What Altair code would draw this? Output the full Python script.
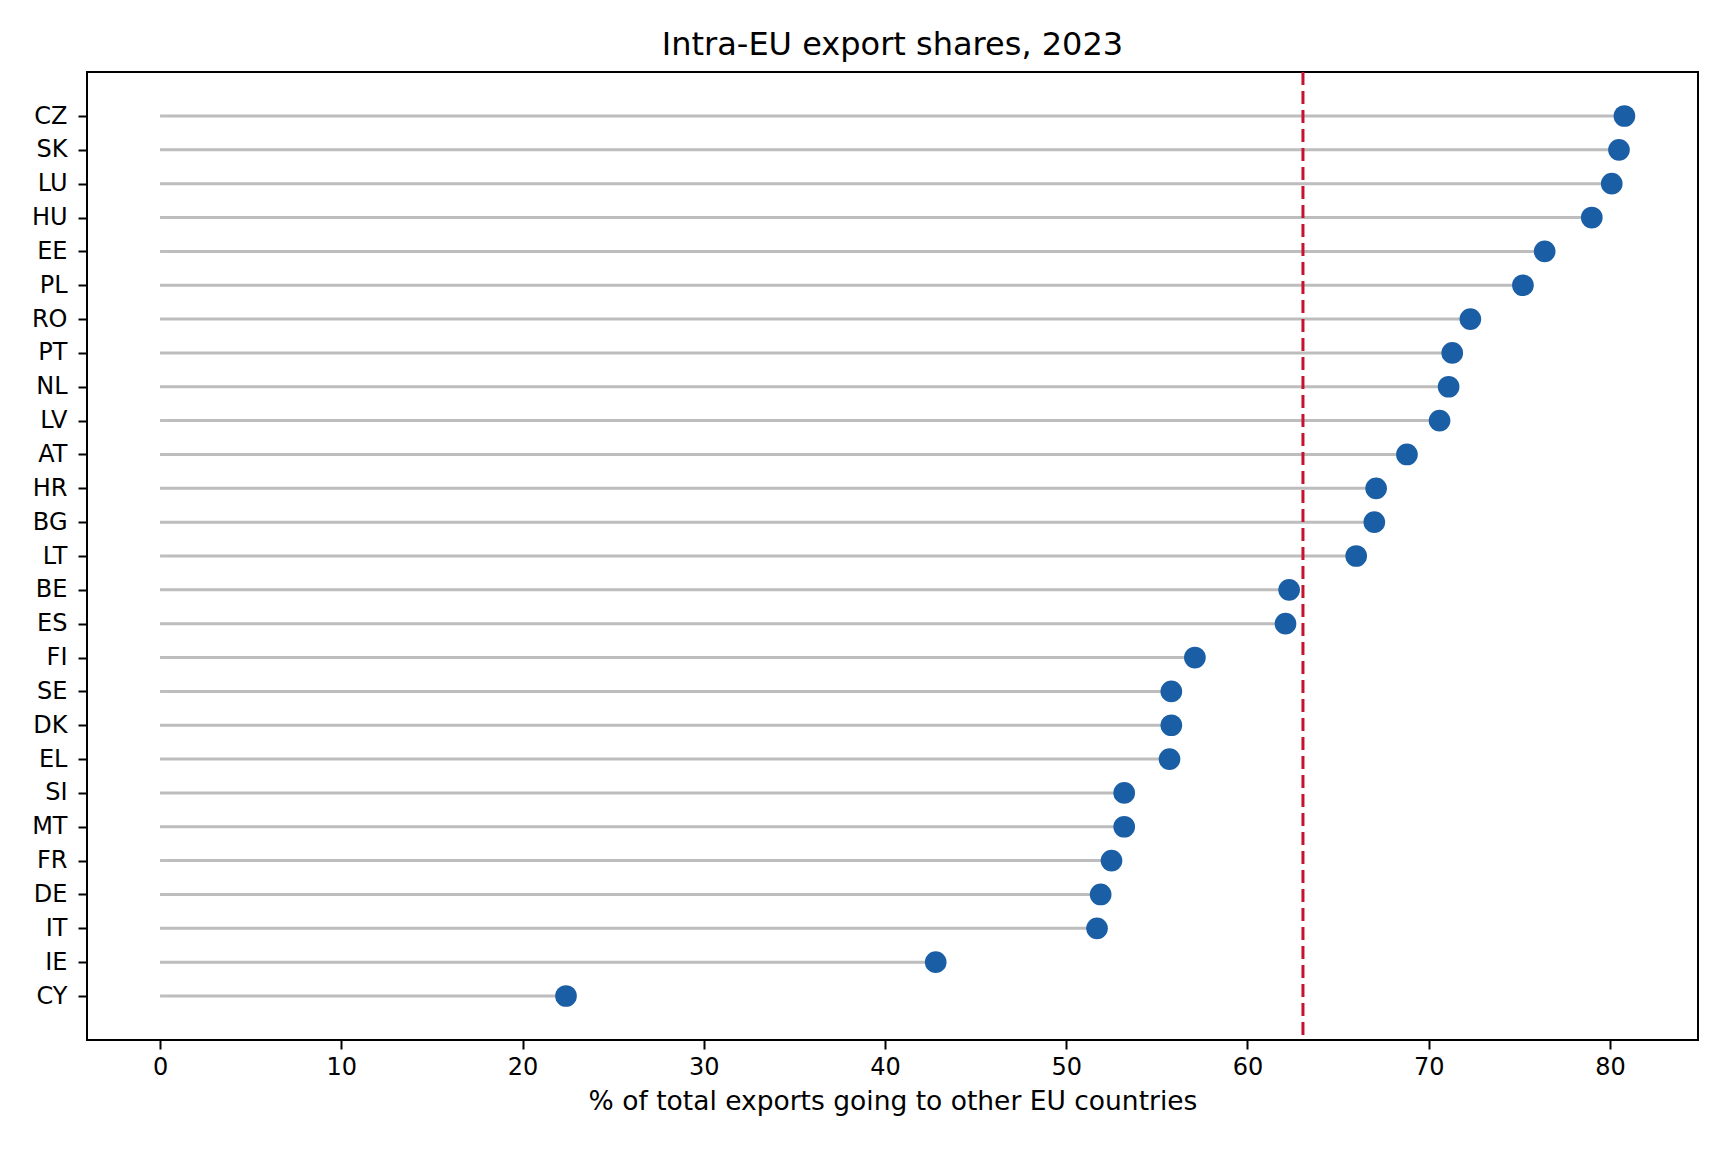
import altair as alt
import pandas as pd

countries = ["CZ", "SK", "LU", "HU", "EE", "PL", "RO", "PT", "NL", "LV",
             "AT", "HR", "BG", "LT", "BE", "ES", "FI", "SE", "DK", "EL",
             "SI", "MT", "FR", "DE", "IT", "IE", "CY"]
shares = [80.8, 80.5, 80.1, 79.0, 76.4, 75.2, 72.3, 71.3, 71.1, 70.6,
          68.8, 67.1, 67.0, 66.0, 62.3, 62.1, 57.1, 55.8, 55.8, 55.7,
          53.2, 53.2, 52.5, 51.9, 51.7, 42.8, 22.4]
x_ticks = [0, 10, 20, 30, 40, 50, 60, 70, 80]

df = pd.DataFrame({"country": countries, "share": shares, "zero": [0] * len(countries)})

FONT = "DejaVu Sans"
W, H = 1611, 968

x_scale = alt.Scale(domain=[-4.03, 84.86], nice=False, zero=False)
y_scale = alt.Scale(type="point", range=[44, 924], padding=0)

x_axis = alt.Axis(values=x_ticks, title="% of total exports going to other EU countries",
                  grid=False, domain=False, tickColor="black", tickWidth=2, tickSize=9,
                  labelFont=FONT, labelFontSize=24, labelColor="black", labelPadding=6,
                  titleFont=FONT, titleFontSize=26.5, titleFontWeight="normal",
                  titleColor="black", titlePadding=9, labelFlush=False)
y_axis = alt.Axis(title=None, grid=False, domain=False, tickColor="black", tickWidth=2,
                  tickSize=9, labelFont=FONT, labelFontSize=24, labelColor="black",
                  labelPadding=11)

base = alt.Chart(df)

stems = base.mark_rule(color="#bdbdbd", strokeWidth=3).encode(
    x=alt.X("zero:Q", scale=x_scale, axis=x_axis),
    x2="share:Q",
    y=alt.Y("country:N", sort=countries, scale=y_scale, axis=y_axis),
)

dots = base.mark_circle(color="#1a5ea5", opacity=1, size=470).encode(
    x=alt.X("share:Q", scale=x_scale),
    y=alt.Y("country:N", sort=countries, scale=y_scale),
)

mean_line = base.transform_aggregate(mean_share="mean(share)").mark_rule(
    color="#c4122f", strokeWidth=3, strokeDash=[13, 6]
).encode(x=alt.X("mean_share:Q", scale=x_scale))

chart = alt.layer(stems, dots, mean_line).properties(
    width=W,
    height=H,
    title=alt.TitleParams("Intra-EU export shares, 2023", font=FONT, fontSize=32,
                          fontWeight="normal", color="black", anchor="middle",
                          offset=9),
    autosize=alt.AutoSizeParams(type="none"),
    padding={"left": 79, "top": 64, "right": 22, "bottom": 104},
    background="white",
).configure_view(stroke="black", strokeWidth=2)

chart.save("out.html", embed_options={"renderer": "svg", "actions": False})
